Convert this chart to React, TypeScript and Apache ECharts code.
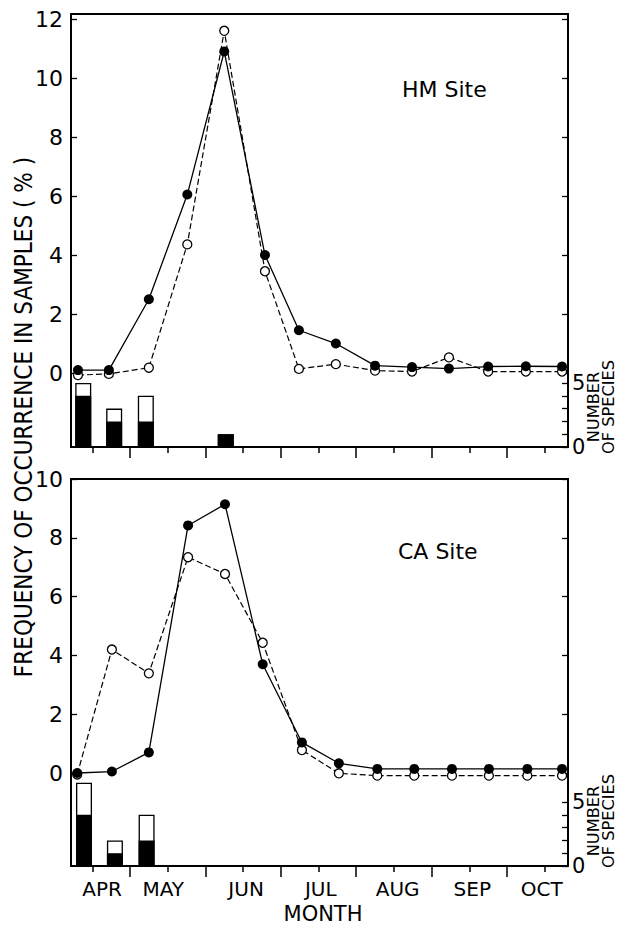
import React, { useEffect, useRef } from "react";
import * as echarts from "echarts";

// ---- data (x in months since 1 April) ----
const sampleMonthHM = [0.31, 0.72, 1.25, 1.76, 2.25, 2.79, 3.24, 3.73, 4.25, 4.74, 5.23, 5.75, 6.25, 6.73];
const hmFilled = [0.1, 0.1, 2.5, 6.05, 10.9, 4.0, 1.45, 1.0, 0.25, 0.2, 0.15, 0.22, 0.23, 0.22];
const hmOpen = [-0.07, -0.03, 0.18, 4.36, 11.6, 3.45, 0.14, 0.3, 0.08, 0.05, 0.53, 0.05, 0.05, 0.05];

const sampleMonthCA = [0.3, 0.76, 1.25, 1.77, 2.26, 2.76, 3.28, 3.77, 4.28, 4.77, 5.27, 5.76, 6.27, 6.73];
const caFilled = [0.0, 0.05, 0.7, 8.42, 9.14, 3.7, 1.04, 0.33, 0.14, 0.14, 0.14, 0.14, 0.14, 0.14];
const caOpen = [-0.05, 4.2, 3.39, 7.34, 6.77, 4.43, 0.78, -0.01, -0.09, -0.09, -0.09, -0.09, -0.09, -0.09];

const hmBarMonth = [0.38, 0.79, 1.21, 2.27];
const hmSpeciesBlack = [4, 2, 2, 1];
const hmSpeciesWhite = [1, 1, 2, 0];

const caBarMonth = [0.39, 0.8, 1.22];
const caSpeciesBlack = [4, 1, 2];
const caSpeciesWhite = [2.5, 1, 2];

const monthLabels = ["APR", "MAY", "JUN", "JUL", "AUG", "SEP", "OCT"];
const monthLabelPos = [0.63, 1.44, 2.54, 3.53, 4.55, 5.54, 6.46];
const monthBoundaries = [1, 2, 3, 4, 5, 6];
const midMonths = [0.5, 1.5, 2.5, 3.5, 4.5, 5.5, 6.5];
const freqTicksHM = [0, 2, 4, 6, 8, 10, 12];
const freqTicksCA = [0, 2, 4, 6, 8, 10];
const speciesTicks = [0, 1, 2, 3, 4, 5];
const speciesLabels = [0, 5];

const FONT = "DejaVu Sans";

export default function App() {
  const ref = useRef<HTMLDivElement>(null);
  useEffect(() => {
    if (!ref.current) return;
    const chart = echarts.init(ref.current, null, { renderer: "svg" });

    const xMin = 0.2175;
    const xMax = 6.809;

    const pairs = (xs: number[], ys: number[]) => xs.map((x, i) => [x, ys[i]]);
    const totals = (xs: number[], a: number[], b: number[]) => xs.map((x, i) => [x, a[i] + b[i]]);

    const xAxisBase = (gridIndex: number, ticks: number[], len: number, labels: boolean) => ({
      type: "value",
      gridIndex,
      position: "bottom",
      min: xMin,
      max: xMax,
      axisLine: { show: false, onZero: false },
      splitLine: { show: false },
      axisTick: {
        show: true,
        inside: false,
        length: len,
        customValues: ticks,
        lineStyle: { color: "#000", width: 1.5 },
      },
      axisLabel: labels
        ? {
            show: true,
            customValues: monthLabelPos,
            margin: 13,
            fontFamily: FONT,
            fontSize: 20,
            color: "#000",
            formatter: (v: number) => {
              let best = 0;
              monthLabelPos.forEach((p, i) => {
                if (Math.abs(p - v) < Math.abs(monthLabelPos[best] - v)) best = i;
              });
              return monthLabels[best];
            },
          }
        : { show: false },
    });

    const yLine = (gridIndex: number, min: number, max: number, ticks: number[], position: string, labels: boolean) => ({
      type: "value",
      gridIndex,
      position,
      min,
      max,
      axisLine: { show: false, onZero: false },
      splitLine: { show: false },
      axisTick: {
        show: true,
        inside: true,
        length: 6,
        customValues: ticks,
        lineStyle: { color: "#000", width: 1.3 },
      },
      axisLabel: labels
        ? { show: true, customValues: ticks, margin: 8, fontFamily: FONT, fontSize: 22, color: "#000" }
        : { show: false },
    });

    const ySpecies = (gridIndex: number, max: number) => ({
      type: "value",
      gridIndex,
      position: "right",
      min: 0,
      max,
      axisLine: { show: false, onZero: false },
      splitLine: { show: false },
      axisTick: {
        show: true,
        inside: true,
        length: 6,
        customValues: speciesTicks,
        lineStyle: { color: "#000", width: 1.3 },
      },
      axisLabel: {
        show: true,
        customValues: speciesLabels,
        margin: 4,
        fontFamily: FONT,
        fontSize: 21,
        color: "#000",
      },
    });

    const filledLine = (xi: number, yi: number, data: number[][]) => ({
      type: "line",
      xAxisIndex: xi,
      yAxisIndex: yi,
      data,
      symbol: "circle",
      symbolSize: 10,
      lineStyle: { color: "#000", width: 1.3, type: "solid" },
      itemStyle: { color: "#000", borderColor: "#000", borderWidth: 0 },
      z: 4,
    });
    const openLine = (xi: number, yi: number, data: number[][]) => ({
      type: "line",
      xAxisIndex: xi,
      yAxisIndex: yi,
      data,
      symbol: "circle",
      symbolSize: 9,
      lineStyle: { color: "#000", width: 1.2, type: [6, 3] },
      itemStyle: { color: "#fff", borderColor: "#000", borderWidth: 1.3 },
      z: 3,
    });
    const bar = (xi: number, yi: number, data: number[][], white: boolean) => ({
      type: "bar",
      xAxisIndex: xi,
      yAxisIndex: yi,
      data,
      barWidth: 16,
      barGap: "-100%",
      itemStyle: {
        color: white ? "#fff" : "#000",
        borderColor: "#000",
        borderWidth: 1.3,
      },
      z: 2,
    });

    const text = (x: number, y: number, t: string, size: number, align: string, extra: any = {}) => ({
      type: "text",
      x,
      y,
      ...extra,
      style: {
        text: t,
        fontFamily: FONT,
        fontSize: size,
        fill: "#000",
        align,
        verticalAlign: "middle",
        textAlign: align,
        textVerticalAlign: "middle",
        ...(extra.style || {}),
      },
    });

    const option = {
      animation: false,
      backgroundColor: "#fff",
      grid: [
        { left: 71, right: 53, top: 14, bottom: 478, show: true, borderColor: "#000", borderWidth: 2, containLabel: false },
        { left: 71, right: 53, top: 479, bottom: 59, show: true, borderColor: "#000", borderWidth: 2, containLabel: false },
      ],
      xAxis: [
        xAxisBase(0, monthBoundaries, 11, false),
        xAxisBase(0, midMonths, 6, false),
        xAxisBase(1, monthBoundaries, 11, false),
        xAxisBase(1, midMonths, 6, true),
      ],
      yAxis: [
        yLine(0, -2.508, 12.17, freqTicksHM, "left", true),
        yLine(0, -2.508, 12.17, freqTicksHM, "right", false),
        ySpecies(0, 33.83),
        yLine(1, -3.163, 10, freqTicksCA, "left", true),
        yLine(1, -3.163, 10, freqTicksCA, "right", false),
        ySpecies(1, 30.23),
      ],
      series: [
        bar(0, 2, totals(hmBarMonth, hmSpeciesBlack, hmSpeciesWhite), true),
        bar(0, 2, pairs(hmBarMonth, hmSpeciesBlack), false),
        openLine(0, 0, pairs(sampleMonthHM, hmOpen)),
        filledLine(0, 0, pairs(sampleMonthHM, hmFilled)),
        bar(2, 5, totals(caBarMonth, caSpeciesBlack, caSpeciesWhite), true),
        bar(2, 5, pairs(caBarMonth, caSpeciesBlack), false),
        openLine(2, 3, pairs(sampleMonthCA, caOpen)),
        filledLine(2, 3, pairs(sampleMonthCA, caFilled)),
      ],
      graphic: [
        text(24, 417, "FREQUENCY OF OCCURRENCE IN SAMPLES ( % )", 24, "center", {
          rotation: Math.PI / 2,
          scaleX: 0.9,
        }),
        text(323, 914, "MONTH", 21, "center"),
        text(402, 89, "HM Site", 22, "left"),
        text(398, 551, "CA Site", 22, "left"),
        text(602, 407, "NUMBER\nOF SPECIES", 15, "center", {
          rotation: Math.PI / 2,
          scaleX: 1.08,
          style: { lineHeight: 15 },
        }),
        text(602, 821, "NUMBER\nOF SPECIES", 15, "center", {
          rotation: Math.PI / 2,
          scaleX: 1.08,
          style: { lineHeight: 15 },
        }),
      ],
    };

    chart.setOption(option as any);
    return () => chart.dispose();
  }, []);

  return (
    <div
      ref={ref}
      style={{ position: "absolute", left: 0, top: 0, width: 621, height: 925, background: "#fff" }}
    />
  );
}
